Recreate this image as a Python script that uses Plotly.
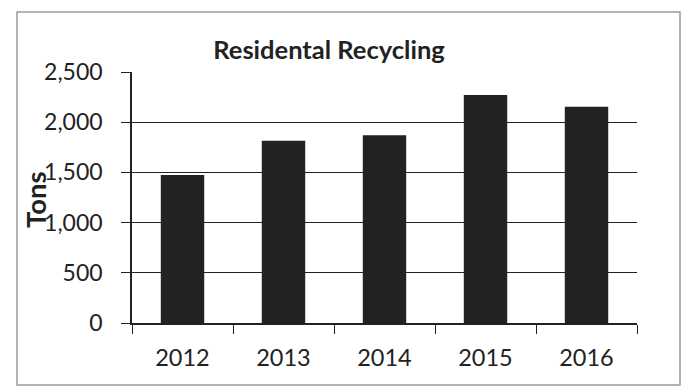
import plotly.graph_objects as go

# Residential recycling tonnage by year
years = ["2012", "2013", "2014", "2015", "2016"]
tons = [1475, 1815, 1870, 2270, 2155]
y_ticks = [0, 500, 1000, 1500, 2000, 2500]
y_tick_labels = ["0", "500", "1,000", "1,500", "2,000", "2,500"]

W, H = 688, 386
L, R, T, B = 132, 51, 72, 63
plot_w = W - L - R
plot_h = H - T - B

FONT = "Lato"
INK = "#222222"

fig = go.Figure(
    go.Bar(
        x=years,
        y=tons,
        marker=dict(color=INK, line=dict(width=0)),
        width=0.43,
    )
)

# outer frame around the whole chart, in pixel terms converted to paper units
def px_x(px):
    return (px - L) / plot_w

def px_y(py):
    return (H - B - py) / plot_h

fig.add_shape(
    type="rect", xref="paper", yref="paper",
    x0=px_x(17), x1=px_x(680), y0=px_y(385), y1=px_y(12),
    line=dict(color="#9a9a9a", width=1.5), fillcolor="rgba(0,0,0,0)",
    layer="below",
)

fig.add_annotation(
    text="<b>Tons</b>", xref="paper", yref="paper",
    x=px_x(35), y=px_y(200), xanchor="center", yanchor="middle",
    textangle=-90, showarrow=False,
    font=dict(family=FONT, size=27.5, color=INK),
)

fig.update_layout(
    width=W, height=H,
    margin=dict(l=L, r=R, t=T, b=B),
    paper_bgcolor="white", plot_bgcolor="white",
    showlegend=False,
    title=dict(
        text="<b>Residental Recycling</b>",
        x=329 / W, xanchor="center", xref="container",
        y=1 - 50 / H, yanchor="middle", yref="container",
        font=dict(family=FONT, size=25.5, color=INK),
    ),
    font=dict(family=FONT, color=INK),
)

fig.update_xaxes(
    type="category",
    showgrid=False,
    showline=True, linecolor=INK, linewidth=1.5,
    ticks="outside", tickson="boundaries", ticklen=9, tickwidth=1.2, tickcolor=INK,
    tickfont=dict(family=FONT, size=23.5, color=INK),
    ticklabelstandoff=13,
    zeroline=False,
)

fig.update_yaxes(
    range=[0, 2500],
    tickvals=y_ticks, ticktext=y_tick_labels,
    showgrid=True, gridcolor=INK, gridwidth=1.2,
    showline=True, linecolor=INK, linewidth=1.5,
    ticks="outside", ticklen=9, tickwidth=1.2, tickcolor=INK,
    tickfont=dict(family=FONT, size=23, color=INK),
    ticklabelstandoff=14,
    zeroline=False,
)

fig.write_html("out.html")
